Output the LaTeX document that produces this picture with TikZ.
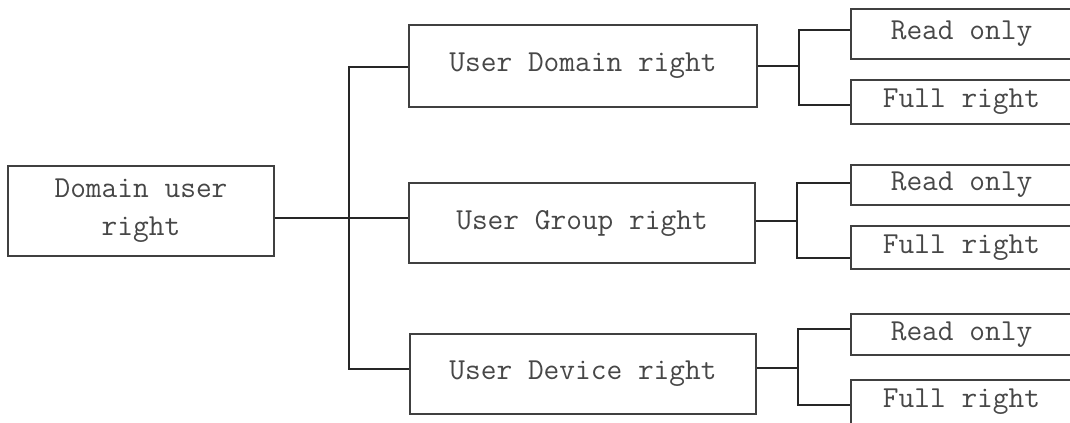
\documentclass[tikz,border=0pt]{standalone}

\begin{document}
\begin{tikzpicture}
	[
		x=0.025cm, y=-0.025cm,
		box/.style={draw=black!75, line width=1.2pt, inner sep=0pt,
			font=\ttfamily\fontsize{21.7}{27}\selectfont, text=black!72},
		link/.style={black!85, line width=1pt}
	]

	% Page frame.
	\clip (0,0) rectangle (1070,422);

	% Draw root box.
	\node[box, align=center, minimum width=6.65cm, minimum height=2.25cm] (root) at (141,211) {Domain user\\right};

	% Draw middle boxes.
	\node[box, minimum width=8.7cm, minimum height=2.05cm] (dom) at (583,66) {User Domain right};
	\node[box, minimum width=8.65cm, minimum height=2cm] (group) at (582,223) {User Group right};
	\node[box, minimum width=8.65cm, minimum height=2cm] (dev) at (583,374) {User Device right};

	% Draw right boxes.
	\node[box, minimum width=5.525cm, minimum height=1.25cm] (domread) at (961.5,34) {Read only};
	\node[box, minimum width=5.525cm, minimum height=1.1cm] (domfull) at (961.5,102) {Full right};
	\node[box, minimum width=5.525cm, minimum height=1cm] (groupread) at (961.5,185) {Read only};
	\node[box, minimum width=5.525cm, minimum height=1.075cm] (groupfull) at (961.5,247.5) {Full right};
	\node[box, minimum width=5.525cm, minimum height=1.025cm] (devread) at (961.5,334.5) {Read only};
	\node[box, minimum width=5.525cm, minimum height=1.1cm] (devfull) at (961.5,402) {Full right};

	% Junction points.
	\coordinate (rj) at (349,218);
	\coordinate (t1) at (349,67);
	\coordinate (t3) at (349,369);
	\coordinate (d0) at (799,66);
	\coordinate (d1) at (799,30);
	\coordinate (d2) at (799,105);
	\coordinate (g0) at (797,221);
	\coordinate (g1) at (797,183);
	\coordinate (g2) at (797,258);
	\coordinate (v0) at (798,368);
	\coordinate (v1) at (798,329);
	\coordinate (v2) at (798,405);

	% Draw main tree.
	\draw[link] (root.east |- rj) -- (group.west |- rj);
	\draw[link] (dom.west |- t1) -- (t1) -- (t3) -- (dev.west |- t3);

	% Draw branches.
	\draw[link] (dom.east |- d0) -- (d0);
	\draw[link] (domread.west |- d1) -- (d1) -- (d2) -- (domfull.west |- d2);
	\draw[link] (group.east |- g0) -- (g0);
	\draw[link] (groupread.west |- g1) -- (g1) -- (g2) -- (groupfull.west |- g2);
	\draw[link] (dev.east |- v0) -- (v0);
	\draw[link] (devread.west |- v1) -- (v1) -- (v2) -- (devfull.west |- v2);
\end{tikzpicture}
\end{document}
